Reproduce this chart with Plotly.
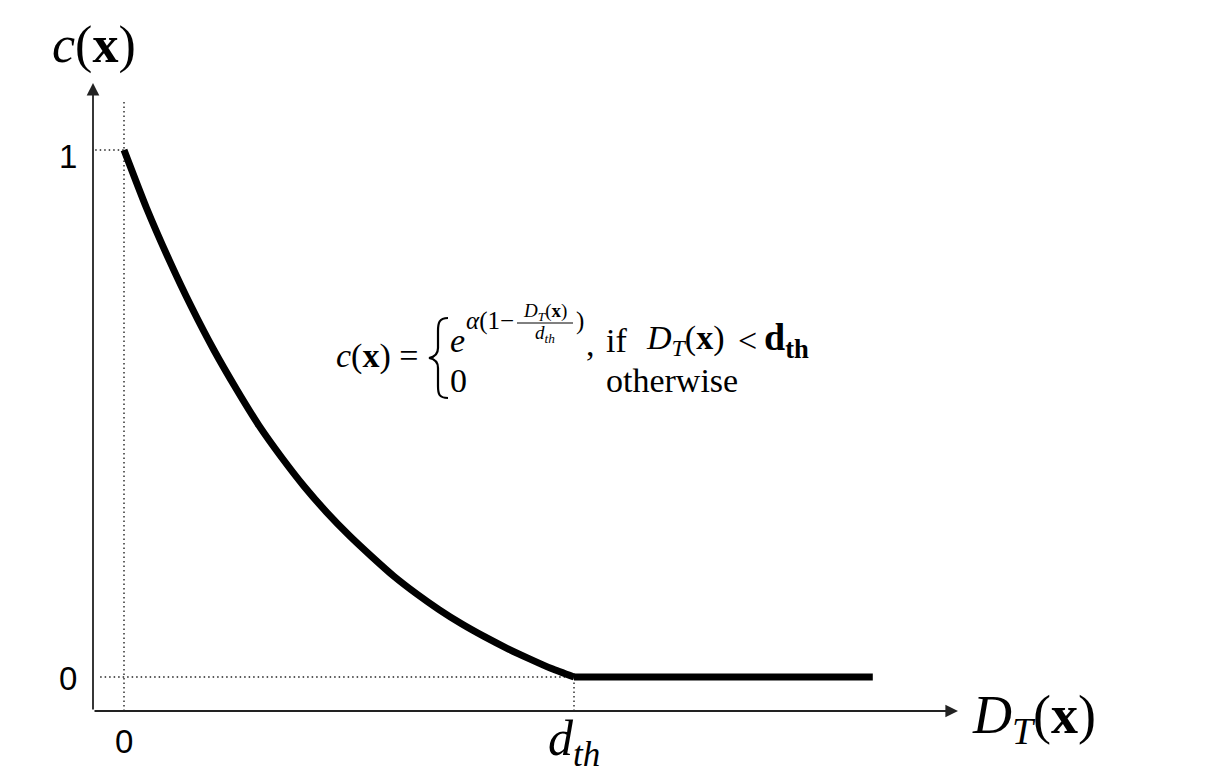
import plotly.graph_objects as go

# ---- data (distance in units of d_th, confidence) ----
dist = [0.0, 0.05, 0.10, 0.15, 0.20, 0.25, 0.30, 0.35, 0.40, 0.45, 0.50,
        0.55, 0.60, 0.65, 0.70, 0.75, 0.80, 0.85, 0.90, 0.95, 1.0]
conf = [1.0, 0.890, 0.792, 0.702, 0.620, 0.546, 0.477, 0.417, 0.362, 0.313, 0.269,
        0.229, 0.191, 0.158, 0.128, 0.101, 0.077, 0.055, 0.035, 0.016, 0.0]
dist_flat = [1.0, 1.664]
conf_flat = [0.0, 0.0]
d_th = 1.0
y_ticks = [0, 1]
y_tick_labels = ["0", "1"]
x_ticks = [0]
x_tick_labels = ["0"]

W, H = 1212, 779
# axis extents (data units)
x_axis_min, x_axis_max = -0.0689, 1.8533
y_axis_min, y_axis_max = -0.0645, 1.1271
x_range = [-124 / 450, 1088 / 450]
y_range = [-102 / 527, 677 / 527]


def px(x):
    return x / W


def py(y):
    return 1 - y / H


SERIF = "Liberation Serif"
SANS = "Liberation Sans"
DOT = dict(color="#222", width=1.4, dash="1.5px,3px")
NB = "\u00a0"

fig = go.Figure()

# dotted guide lines
fig.add_trace(go.Scatter(x=[0, 0], y=[y_axis_min, 1.095], mode="lines", line=DOT, hoverinfo="skip"))
fig.add_trace(go.Scatter(x=[-0.064, 0], y=[1, 1], mode="lines", line=DOT, hoverinfo="skip"))
fig.add_trace(go.Scatter(x=[-0.053, d_th], y=[0, 0], mode="lines", line=DOT, hoverinfo="skip"))
fig.add_trace(go.Scatter(x=[d_th, d_th], y=[y_axis_min, 0], mode="lines", line=DOT, hoverinfo="skip"))

# main curve
fig.add_trace(go.Scatter(x=dist, y=conf, mode="lines",
                         line=dict(color="black", width=7, shape="spline", smoothing=0.6),
                         hoverinfo="skip"))
fig.add_trace(go.Scatter(x=dist_flat, y=conf_flat, mode="lines",
                         line=dict(color="black", width=7), hoverinfo="skip"))

ann = []
# axes with arrows
for (x1, y1) in [(x_axis_max, y_axis_min), (x_axis_min, y_axis_max)]:
    ann.append(dict(x=x1, y=y1, ax=x_axis_min, ay=y_axis_min, xref="x", yref="y",
                    axref="x", ayref="y", showarrow=True, arrowhead=2, arrowsize=1.4,
                    arrowwidth=1.8, arrowcolor="#222", text="", standoff=0))

# tick labels
for v, t in zip(y_ticks, y_tick_labels):
    ann.append(dict(x=px(79), y=v, xref="paper", yref="y", text=t, showarrow=False,
                    xanchor="right", yanchor="middle", yshift=-6 if v == 1 else -1,
                    font=dict(family=SANS, size=33, color="black")))
for v, t in zip(x_ticks, x_tick_labels):
    ann.append(dict(x=v, y=py(741), xref="x", yref="paper", text=t, showarrow=False,
                    xanchor="center", yanchor="middle",
                    font=dict(family=SANS, size=33, color="black")))
ann.append(dict(x=d_th, y=py(742), xref="x", yref="paper",
                text="<i>d</i><sub><i>th</i></sub>", showarrow=False,
                xanchor="center", yanchor="middle",
                font=dict(family=SERIF, size=50, color="black")))

# axis titles
ann.append(dict(x=px(94), y=py(45), xref="paper", yref="paper",
                text="<i>c</i>(<b>x</b>)", showarrow=False, xanchor="center", yanchor="middle",
                font=dict(family=SERIF, size=52, color="black")))
ann.append(dict(x=px(970), y=py(718), xref="paper", yref="paper",
                text="<i>D</i><sub><i>T</i></sub>(<b>x</b>)", showarrow=False,
                xanchor="left", yanchor="middle",
                font=dict(family=SERIF, size=54, color="black")))

# formula (text pieces placed in pixel positions)
FS = 34


def txt(x, y, t, size=FS, anchor="left"):
    ann.append(dict(x=px(x), y=py(y), xref="paper", yref="paper", text=t, showarrow=False,
                    xanchor=anchor, yanchor="middle",
                    font=dict(family=SERIF, size=size, color="black")))


txt(420, 356, "<i>c</i>(<b>x</b>)" + NB + "=", anchor="right")
txt(448, 340, "<i>e</i>")
txt(464, 321, "<i>α</i>(1−", size=25)
txt(545, 312, "<i>D</i><sub><i>T</i></sub>(<b>x</b>)", size=19, anchor="center")
txt(545, 334, "<i>d</i><sub><i>th</i></sub>", size=19, anchor="center")
txt(574, 321, ")", size=25)
txt(584, 344, ",")
txt(604, 340, "if")
txt(644, 340, "<i>D</i><sub><i>T</i></sub>(<b>x</b>)")
txt(736, 340, "&lt;")
txt(762, 340, "<b>d<sub>th</sub></b>", size=38)
txt(448, 380, "0")
txt(604, 380, "otherwise")

shapes = []
# fraction bar
shapes.append(dict(type="line", xref="paper", yref="paper",
                   x0=px(517), x1=px(573), y0=py(323), y1=py(323),
                   line=dict(color="black", width=1)))
# left brace
brace_pts = [
    ("M", [(448, 318)]),
    ("C", [(439, 318), (438, 323), (438, 331)]),
    ("L", [(438, 348)]),
    ("C", [(438, 353), (435, 357), (429, 358)]),
    ("C", [(435, 359), (438, 363), (438, 368)]),
    ("L", [(438, 386)]),
    ("C", [(438, 394), (439, 398), (448, 398)]),
]
path = " ".join(cmd + " " + " ".join(f"{px(a):.5f},{py(b):.5f}" for a, b in pts) for cmd, pts in brace_pts)
shapes.append(dict(type="path", xref="paper", yref="paper", path=path,
                   line=dict(color="black", width=2.2)))

fig.update_layout(
    width=W, height=H,
    margin=dict(l=0, r=0, t=0, b=0),
    paper_bgcolor="white", plot_bgcolor="white",
    showlegend=False,
    xaxis=dict(range=x_range, visible=False, fixedrange=True),
    yaxis=dict(range=y_range, visible=False, fixedrange=True),
    annotations=ann,
    shapes=shapes,
)

fig.write_html("out.html", config={"displayModeBar": False},
               post_script="document.body.style.margin='0';document.body.style.overflow='hidden';")
